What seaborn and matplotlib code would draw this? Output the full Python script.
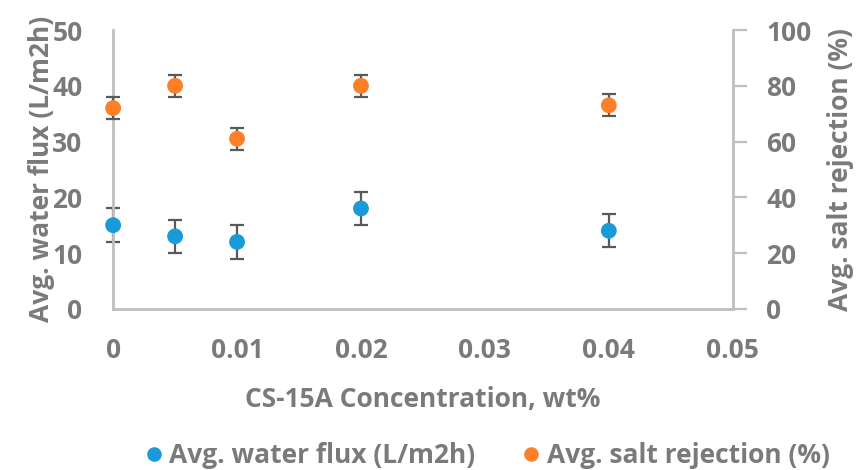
import matplotlib
matplotlib.use("Agg")
import matplotlib.pyplot as plt
from matplotlib.lines import Line2D
import numpy as np
import pandas as pd
import seaborn as sns

# Measurements
concentration = [0, 0.005, 0.01, 0.02, 0.04]
water_flux = [15, 13, 12, 18, 14]
water_flux_err = [3, 3, 3, 3, 3]
salt_rejection = [72, 80, 61, 80, 73]
salt_rejection_err = [4, 4, 4, 4, 4]
x_ticks = [0, 0.01, 0.02, 0.03, 0.04, 0.05]
x_tick_labels = ["0", "0.01", "0.02", "0.03", "0.04", "0.05"]

flux_label = "Avg. water flux (L/m2h)"
rejection_label = "Avg. salt rejection (%)"

BLUE = "#1a9ad8"
ORANGE = "#ff7f27"
TEXT = "#7a7a7a"
SPINE = "#bfbfbf"
ERR = "#595959"
FS = 19

sns.set_theme(style="white")
plt.rcParams["font.family"] = ["Open Sans", "DejaVu Sans"]
plt.rcParams["font.weight"] = "bold"

df = pd.DataFrame({"conc": concentration, "flux": water_flux,
                   "flux_err": water_flux_err, "rej": salt_rejection,
                   "rej_err": salt_rejection_err})

fig = plt.figure(figsize=(8.57, 4.70), dpi=100)
ax = fig.add_axes([0.132, 0.343, 0.723, 0.593])
ax2 = ax.twinx()

# error bars, then the markers on top
ax.errorbar(df["conc"], df["flux"], yerr=df["flux_err"], fmt="none",
            ecolor=ERR, elinewidth=1.6, capsize=5, capthick=1.6,
            clip_on=False, zorder=2)
ax2.errorbar(df["conc"], df["rej"], yerr=df["rej_err"], fmt="none",
             ecolor=ERR, elinewidth=1.6, capsize=5, capthick=1.6,
             clip_on=False, zorder=2)
sns.scatterplot(data=df, x="conc", y="flux", ax=ax, color=BLUE, s=130,
                edgecolor="none", clip_on=False, zorder=3, legend=False)
sns.scatterplot(data=df, x="conc", y="rej", ax=ax2, color=ORANGE, s=130,
                edgecolor="none", clip_on=False, zorder=3, legend=False)

ax.set_xlim(0, 0.05)
ax.set_ylim(0, 50)
ax2.set_ylim(0, 100)
ax.set_xticks(x_ticks)
ax.set_xticklabels(x_tick_labels)
ax.set_yticks(np.arange(0, 51, 10))
ax2.set_yticks(np.arange(0, 101, 20))

for a in (ax, ax2):
    for s in a.spines.values():
        s.set_visible(False)
ax.spines["left"].set_visible(True)
ax.spines["bottom"].set_visible(True)
ax2.spines["right"].set_visible(True)
for s in (ax.spines["left"], ax.spines["bottom"], ax2.spines["right"]):
    s.set_color(SPINE)
    s.set_linewidth(2)

ax.tick_params(axis="both", which="both", length=0, labelsize=FS,
               labelcolor=TEXT)
ax.tick_params(axis="y", pad=22)
ax.tick_params(axis="x", pad=20)
ax2.tick_params(axis="y", length=10, width=1.6, color=SPINE, labelsize=FS,
                labelcolor=TEXT, pad=14, direction="out")
for lab in ax.get_xticklabels() + ax.get_yticklabels() + ax2.get_yticklabels():
    lab.set_fontweight("bold")

ax.set_xlabel("CS-15A Concentration, wt%", fontsize=FS, color=TEXT,
              fontweight="bold", labelpad=16)
ax.set_ylabel(flux_label, fontsize=FS, color=TEXT, fontweight="bold",
              labelpad=-2)
ax2.set_ylabel(rejection_label, fontsize=FS, color=TEXT, fontweight="bold",
               labelpad=11)
ax.grid(False)
ax2.grid(False)

handles = [
    Line2D([], [], marker="o", linestyle="none", markersize=10.5,
           markerfacecolor=BLUE, markeredgecolor="none", label=flux_label),
    Line2D([], [], marker="o", linestyle="none", markersize=10.5,
           markerfacecolor=ORANGE, markeredgecolor="none", label=rejection_label),
]
leg = fig.legend(handles=handles, loc="center", bbox_to_anchor=(0.566, 0.03),
                 ncol=2, frameon=False, fontsize=FS, handletextpad=0.1,
                 columnspacing=1.6, handlelength=1.0)
for t in leg.get_texts():
    t.set_color(TEXT)
    t.set_fontweight("bold")

fig.savefig("out.png", dpi=100, facecolor="white")
